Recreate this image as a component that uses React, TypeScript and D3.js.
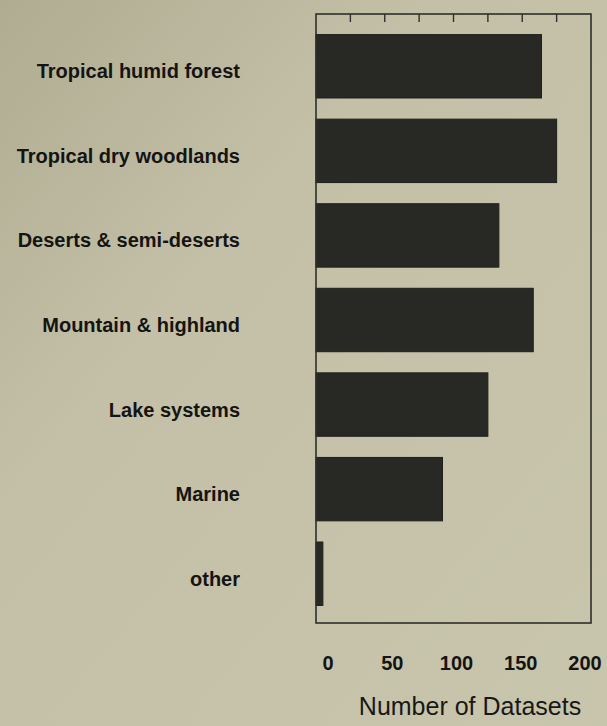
import React from 'react';
import * as d3 from 'd3';

// categories top → bottom, and number of datasets
const categories = [
  'Tropical humid forest',
  'Tropical dry woodlands',
  'Deserts & semi-deserts',
  'Mountain & highland',
  'Lake systems',
  'Marine',
  'other',
];
const datasets = [164, 175, 133, 158, 125, 92, 5];
const tickValues = [0, 25, 50, 75, 100, 125, 150, 175, 200];
const tickLabels = [0, 50, 100, 150, 200];

const W = 607;
const H = 726;
const FONT = '"Liberation Sans", Arial, Helvetica, sans-serif';

const App: React.FC = () => {
  // ─── frame geometry ────────────────────────────────────────────────
  const left = 316;
  const right = 591;
  const top = 14;
  const bottom = 623;

  const x = d3.scaleLinear().domain([0, 200]).range([left, right]);
  // printed labels sit a little off the ticks in the original
  const xLabel = d3.scaleLinear().domain([0, 200]).range([328, 585]);
  const y = d3
    .scaleBand<string>()
    .domain(categories)
    .range([24, 616])
    .paddingInner(0.25)
    .paddingOuter(0.125);

  return (
    <svg
      width={W}
      height={H}
      style={{ position: 'absolute', left: 0, top: 0 }}
      fontFamily={FONT}
    >
      <defs>
        <linearGradient id="bg" x1="0" y1="0" x2="1" y2="1">
          <stop offset="0" stopColor="#b0ac92" />
          <stop offset="0.35" stopColor="#c4c0a7" />
          <stop offset="1" stopColor="#c8c5ad" />
        </linearGradient>
      </defs>
      <rect width={W} height={H} fill="url(#bg)" />

      {/* bars */}
      {categories.map((c, i) => (
        <rect
          key={c}
          x={x(0)}
          y={y(c)}
          width={x(datasets[i]) - x(0)}
          height={y.bandwidth()}
          fill="#282924"
          stroke="#1f201c"
          strokeWidth={1}
        />
      ))}

      {/* frame */}
      <rect
        x={left}
        y={top}
        width={right - left}
        height={bottom - top}
        fill="none"
        stroke="#2f2f2b"
        strokeWidth={1.6}
      />

      {/* top ticks */}
      {tickValues.slice(1, -1).map(v => (
        <line
          key={v}
          x1={x(v)}
          x2={x(v)}
          y1={top}
          y2={top + 8}
          stroke="#2f2f2b"
          strokeWidth={1.4}
        />
      ))}

      {/* category labels */}
      {categories.map(c => (
        <text
          key={c}
          x={240}
          y={(y(c) ?? 0) + y.bandwidth() / 2 + 12}
          textAnchor="end"
          fontSize={20}
          fontWeight="bold"
          fill="#141412"
        >
          {c}
        </text>
      ))}

      {/* x tick labels */}
      {tickLabels.map(v => (
        <text
          key={v}
          x={xLabel(v)}
          y={670}
          textAnchor="middle"
          fontSize={20}
          fontWeight="bold"
          fill="#141412"
        >
          {v}
        </text>
      ))}

      <text
        x={470}
        y={715}
        textAnchor="middle"
        fontSize={25}
        fill="#181816"
      >
        Number of Datasets
      </text>
    </svg>
  );
};

export default App;
